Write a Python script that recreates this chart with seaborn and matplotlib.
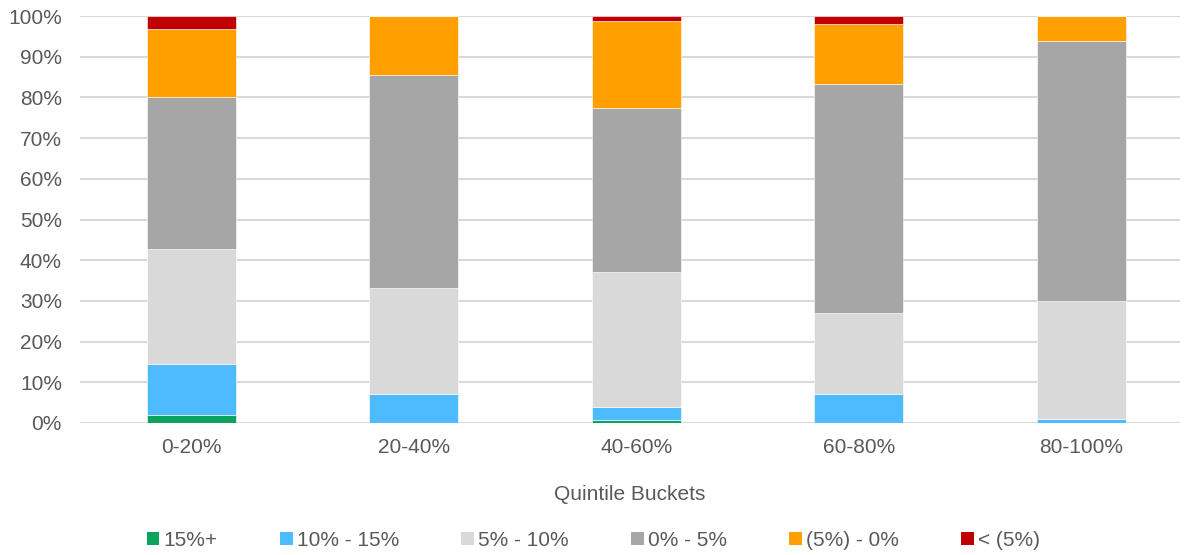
import numpy as np
import pandas as pd
import seaborn as sns
import matplotlib.pyplot as plt
from matplotlib.patches import Patch
from matplotlib.ticker import PercentFormatter

# 数据（按图片估读，单位 %）
buckets = ['0-20%', '20-40%', '40-60%', '60-80%', '80-100%']
series_names = ['15%+', '10% - 15%', '5% - 10%', '0% - 5%', '(5%) - 0%', '< (5%)']
s_15plus = [1.9, 0.0, 0.7, 0.0, 0.0]
s_10_15 = [12.6, 7.1, 3.2, 7.1, 0.9]
s_5_10 = [28.3, 26.1, 33.2, 19.9, 29.1]
s_0_5 = [37.4, 52.2, 40.3, 56.3, 63.8]
s_neg5_0 = [16.6, 14.6, 21.4, 14.7, 6.2]
s_neg5 = [3.2, 0.0, 1.2, 2.0, 0.0]
colors = ['#0BA35E', '#4FBBFF', '#D9D9D9', '#A6A6A6', '#FFA000', '#C00000']

all_series = [s_15plus, s_10_15, s_5_10, s_0_5, s_neg5_0, s_neg5]

sns.set_style('white')
plt.rcParams['font.family'] = ['Liberation Sans', 'DejaVu Sans']

fig = plt.figure(figsize=(11.87, 5.55), dpi=100)
ax = fig.add_axes([80 / 1187, 132 / 555, 1100 / 1187, 407 / 555])

bottom = np.zeros(len(buckets))
for name, vals, c in zip(series_names, all_series, colors):
    df = pd.DataFrame({'bucket': buckets, 'value': vals})
    sns.barplot(data=df, x='bucket', y='value', color=c, bottom=bottom,
                width=0.4, ax=ax, edgecolor='white', linewidth=0.4,
                saturation=1, zorder=3)
    bottom = bottom + np.array(vals)

ax.set_ylim(0, 100)
ax.set_xlim(-0.5, 4.444)
ax.set_yticks(np.arange(0, 101, 10))
ax.yaxis.set_major_formatter(PercentFormatter(decimals=0))
ax.grid(axis='y', color='#D9D9D9', linewidth=1.5, zorder=0)
ax.set_axisbelow(True)
for s in ['top', 'right', 'left', 'bottom']:
    ax.spines[s].set_visible(False)
ax.tick_params(axis='y', length=0, labelsize=15, colors='#595959', pad=13)
ax.tick_params(axis='x', length=0, labelsize=15, colors='#595959', pad=11)
ax.set_ylabel('')
ax.set_xlabel('Quintile Buckets', fontsize=15, color='#595959', labelpad=20)

handles = [Patch(facecolor=c, edgecolor='none') for c in colors]
fig.legend(handles, series_names, loc='center', bbox_to_anchor=(0.5, 15 / 555),
           ncol=6, frameon=False, fontsize=15, labelcolor='#595959',
           handlelength=0.6, handleheight=0.6, handletextpad=0.2, columnspacing=3.0)

plt.savefig('out.png', dpi=100)
